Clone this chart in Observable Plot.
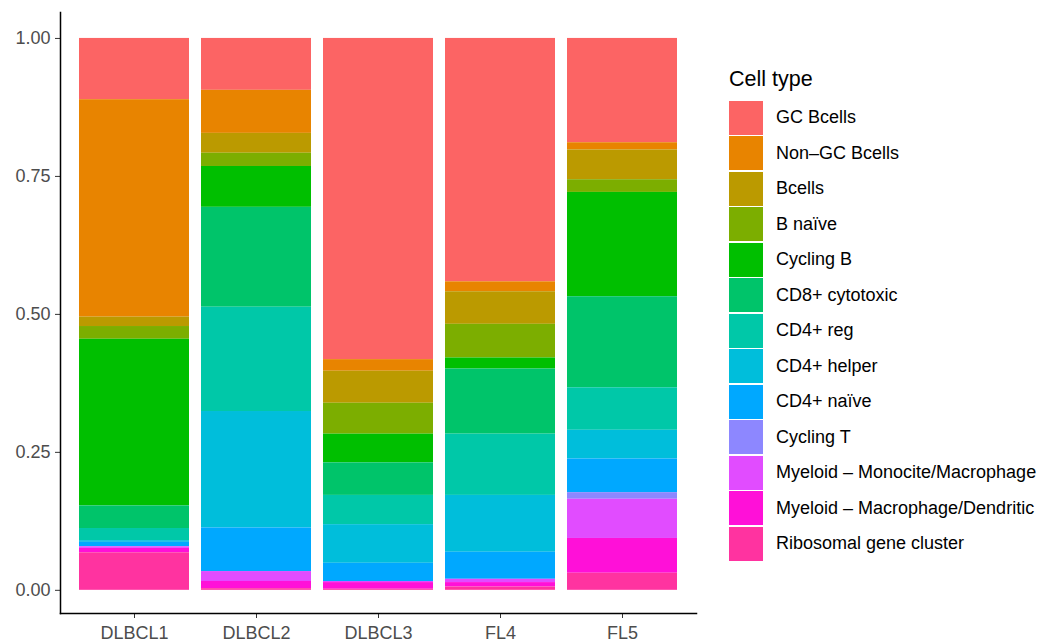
<!DOCTYPE html>
<html>
<head>
<meta charset="utf-8">
<script src="https://cdn.jsdelivr.net/npm/d3@7"></script>
<script src="https://cdn.jsdelivr.net/npm/@observablehq/plot@0.6"></script>
<style>
  body { margin: 0; background: #fff; font-family: "Liberation Sans", Arial, Helvetica, sans-serif; }
  #wrap { position: relative; width: 1046px; height: 644px; overflow: hidden; }
  #chart { position: absolute; left: 0; top: 0; }
  #legend { position: absolute; left: 729px; top: 64px; }
  #legend .title { font-size: 21.5px; color: #000; height: 36px; line-height: 30px; }
  #legend .row { display: flex; align-items: center; height: 35.5px; }
  #legend .key { width: 34px; height: 34px; margin-right: 13px; }
  #legend .lab { font-size: 18px; color: #000; white-space: nowrap; }
</style>
</head>
<body>
<div id="wrap"><div id="chart"></div><div id="legend"></div></div>
<script>
const samples = ["DLBCL1", "DLBCL2", "DLBCL3", "FL4", "FL5"];
const cellTypes = [
  "GC Bcells", "Non\u2013GC Bcells", "Bcells", "B na\u00efve", "Cycling B",
  "CD8+ cytotoxic", "CD4+ reg", "CD4+ helper", "CD4+ na\u00efve", "Cycling T",
  "Myeloid \u2013 Monocite/Macrophage", "Myeloid \u2013 Macrophage/Dendritic", "Ribosomal gene cluster"
];
const colors = [
  "#fc6464", "#e88400", "#bb9a00", "#7cae00", "#00bf00",
  "#00c46a", "#00c8a8", "#00bedb", "#00a8ff", "#8d87ff",
  "#e14cff", "#ff10d8", "#ff33a0"
];
// proportions per sample, in the order of cellTypes
const DLBCL1 = [0.111, 0.394, 0.017, 0.023, 0.302, 0.041, 0.022, 0.003, 0.008, 0.000, 0.003, 0.008, 0.068];
const DLBCL2 = [0.094, 0.078, 0.036, 0.024, 0.074, 0.181, 0.189, 0.211, 0.079, 0.000, 0.018, 0.013, 0.003];
const DLBCL3 = [0.582, 0.021, 0.058, 0.056, 0.052, 0.059, 0.053, 0.070, 0.033, 0.000, 0.002, 0.012, 0.002];
const FL4    = [0.441, 0.018, 0.059, 0.061, 0.020, 0.118, 0.111, 0.103, 0.049, 0.000, 0.006, 0.008, 0.006];
const FL5    = [0.189, 0.013, 0.054, 0.023, 0.189, 0.165, 0.077, 0.052, 0.061, 0.012, 0.071, 0.063, 0.031];
const yTicks = [0, 0.25, 0.5, 0.75, 1];

const sampleValues = [DLBCL1, DLBCL2, DLBCL3, FL4, FL5];
const data = [];
samples.forEach((s, i) => cellTypes.forEach((c, j) => data.push({sample: s, cell: c, value: sampleValues[i][j]})));

const chart = Plot.plot({
  width: 720,
  height: 644,
  marginLeft: 60,
  marginRight: 24,
  marginTop: 12,
  marginBottom: 31,
  style: {fontFamily: "'Liberation Sans', Arial, Helvetica, sans-serif", fontSize: "18px", background: "#fff", color: "#000"},
  x: {domain: samples, paddingInner: 0.1, paddingOuter: 0.15, label: null, axis: null},
  y: {domain: [-0.042, 1.047], label: null, axis: null},
  color: {domain: cellTypes, range: colors},
  marks: [
    Plot.barY(data, {x: "sample", y: "value", fill: "cell", order: [...cellTypes].reverse()}),
    Plot.axisY({ticks: yTicks, tickFormat: d3.format(".2f"), tickSize: 5, tickPadding: 5, label: null, stroke: "#333", fill: "#4d4d4d", fontSize: 18}),
    Plot.axisX({tickSize: 5, tickPadding: 8, label: null, stroke: "#333", fill: "#4d4d4d", fontSize: 18}),
    Plot.frame({anchor: "left", stroke: "#000", strokeWidth: 1.5}),
    Plot.frame({anchor: "bottom", stroke: "#000", strokeWidth: 1.5})
  ]
});
document.getElementById("chart").appendChild(chart);

const legend = d3.select("#legend");
legend.append("div").attr("class", "title").text("Cell type");
cellTypes.forEach((c, i) => {
  const row = legend.append("div").attr("class", "row");
  row.append("div").attr("class", "key").style("background", colors[i]);
  row.append("div").attr("class", "lab").text(c);
});
</script>
</body>
</html>
